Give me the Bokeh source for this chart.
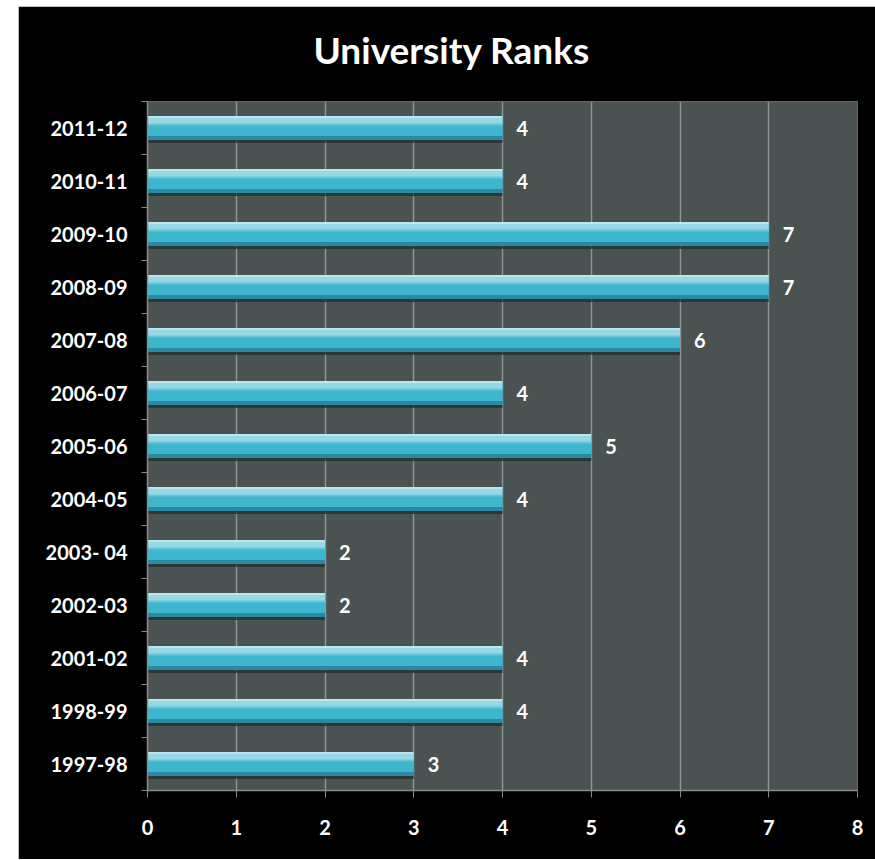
from bokeh.plotting import figure
from bokeh.models import Range1d, FixedTicker, CustomJSTickFormatter, Title
from bokeh.core.properties import value
from bokeh.embed import file_html
from bokeh.resources import INLINE

# ---- data ----
years = ["1997-98", "1998-99", "2001-02", "2002-03", "2003- 04", "2004-05", "2005-06",
         "2006-07", "2007-08", "2008-09", "2009-10", "2010-11", "2011-12"]
ranks = [3, 4, 4, 2, 2, 4, 5, 4, 6, 7, 7, 4, 4]
x_ticks = [0, 1, 2, 3, 4, 5, 6, 7, 8]
title_text = "University Ranks"

FONT = "Lato"
PX = 53.0  # pixels per category band (for bar styling only)

centers = [i + 0.5 for i in range(len(years))]
zeros = [0] * len(years)
labels = [str(r) for r in ranks]

p = figure(width=857, height=853, output_backend="svg", toolbar_location=None,
           x_range=Range1d(0, 8), y_range=Range1d(0, len(years)),
           min_border_left=129, min_border_right=18, min_border_top=95, min_border_bottom=69)
p.margin = (6, 0, 0, 18)
p.background_fill_color = "#4a5352"
p.border_fill_color = "black"
p.outline_line_color = None

# spacer between title and plot area
p.add_layout(Title(text=" ", text_font_size="10px", text_color="black", standoff=0), "above")

# title
p.title.text = title_text
p.title.align = "left"
p.title.vertical_align = "bottom"
p.title.offset = 166
p.title.standoff = 34
p.title.text_color = "white"
p.title.text_font = FONT
p.title.text_font_style = "bold"
p.title.text_font_size = "37px"

# grid
p.xgrid.ticker = FixedTicker(ticks=x_ticks)
p.xgrid.grid_line_color = "#8e9594"
p.xgrid.grid_line_width = 1.5
p.ygrid.grid_line_color = None

def shift(d):
    return [c + d / PX for c in centers]

# bars (layered to mimic bevel look)
p.hbar(y=shift(-13.5), height=3 / PX, left=zeros, right=ranks, fill_color="#263030", fill_alpha=0.8, line_color=None)
p.hbar(y=centers, height=24 / PX, left=zeros, right=ranks, fill_color="#2a8aa3", line_color=None)
p.hbar(y=shift(2), height=20 / PX, left=zeros, right=ranks, fill_color="#3db6ce", line_color=None)
p.hbar(y=shift(6.5), height=7 / PX, left=zeros, right=ranks, fill_color="#98d8e5", line_color=None)
p.hbar(y=shift(3.5), height=2 / PX, left=zeros, right=ranks, fill_color="#66c6d8", line_color=None)
p.hbar(y=shift(11), height=2 / PX, left=zeros, right=ranks, fill_color="#b8e7ef", line_color=None)

# data labels
p.text(x=ranks, y=centers, text=labels, x_offset=14, text_align="left", text_baseline="middle",
       text_color="white", text_font=value(FONT), text_font_style="bold", text_font_size="20px")

# y axis
yax = p.yaxis[0]
yax.ticker = FixedTicker(ticks=centers, minor_ticks=list(range(len(years) + 1)))
yax.formatter = CustomJSTickFormatter(args=dict(labels=years), code="return labels[Math.floor(tick)];")
yax.major_tick_out = 0
yax.major_tick_in = 0
yax.minor_tick_out = 6
yax.minor_tick_in = 0
yax.minor_tick_line_color = "#8a8a8a"
yax.axis_line_color = "#8a8a8a"
yax.axis_line_width = 1.5
yax.major_label_standoff = 14
yax.major_label_text_color = "white"
yax.major_label_text_font = FONT
yax.major_label_text_font_style = "bold"
yax.major_label_text_font_size = "20px"

# x axis
xax = p.xaxis[0]
xax.ticker = FixedTicker(ticks=x_ticks)
xax.major_tick_out = 7
xax.major_tick_in = 0
xax.minor_tick_out = 0
xax.minor_tick_in = 0
xax.major_tick_line_color = "#8a8a8a"
xax.axis_line_color = "#8a8a8a"
xax.axis_line_width = 1.5
xax.major_label_standoff = 22
xax.major_label_text_color = "white"
xax.major_label_text_font = FONT
xax.major_label_text_font_style = "bold"
xax.major_label_text_font_size = "20px"

open("out.html", "w").write(file_html(p, INLINE))
